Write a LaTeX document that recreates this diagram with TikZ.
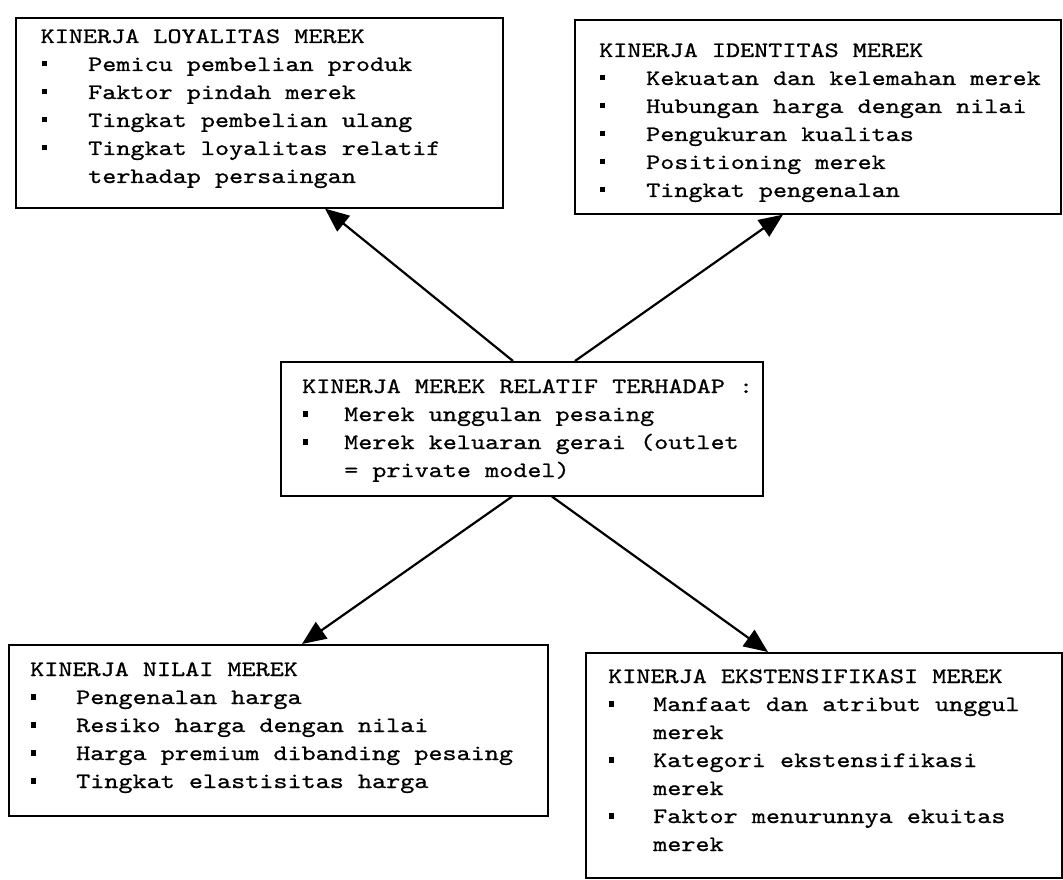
\documentclass[tikz,border=0pt]{standalone}
\usepackage{fontspec}
\newfontfamily\courfont{lmmono10-regular.otf}[FakeStretch=1.22,FakeBold=0.8]
\usetikzlibrary{arrows.meta,calc}
\newcommand\bsq{\raisebox{4.5pt}{\rule{5pt}{5.5pt}}}
\newcommand\itemline[2]{\hbox{\makebox[#1][l]{\hspace{1pt}\bsq}#2}}
\newcommand\contline[2]{\hbox{\hspace*{#1}#2}}
\tikzset{
  box/.style={draw=black, line width=1.6pt, anchor=north west, inner sep=0pt},
  txt/.style={anchor=base west, inner sep=0pt, font=\courfont\fontsize{22}{28}\selectfont},
  arr/.style={line width=2.2pt, -{Triangle[length=24pt,width=20pt]}},
}
\begin{document}
\begin{tikzpicture}[x=1pt,y=-1pt]
\useasboundingbox (0,0) rectangle (1063,880);
% boxes
\node[box, minimum width=487pt, minimum height=190pt] (b1) at (15,17) {};
\node[box, minimum width=486pt, minimum height=194pt] (b2) at (574,19) {};
\node[box, minimum width=482pt, minimum height=134pt] (cen) at (280,361) {};
\node[box, minimum width=539pt, minimum height=171pt] (b4) at (8,644) {};
\node[box, minimum width=476pt, minimum height=225pt] (b5) at (585,652) {};
% texts
\node[txt] (t1) at (40.5,43) {\vtop{%
  \hbox{KINERJA LOYALITAS MEREK}
  \itemline{47.5pt}{Pemicu pembelian produk}
  \itemline{47.5pt}{Faktor pindah merek}
  \itemline{47.5pt}{Tingkat pembelian ulang}
  \itemline{47.5pt}{Tingkat loyalitas relatif}
  \contline{47.5pt}{terhadap persaingan}}};
\node[txt] (t2) at (599,57) {\vtop{%
  \hbox{KINERJA IDENTITAS MEREK}
  \itemline{47pt}{Kekuatan dan kelemahan merek}
  \itemline{47pt}{Hubungan harga dengan nilai}
  \itemline{47pt}{Pengukuran kualitas}
  \itemline{47pt}{Positioning merek}
  \itemline{47pt}{Tingkat pengenalan}}};
\node[txt] (t3) at (302,393) {\vtop{%
  \hbox{KINERJA MEREK RELATIF TERHADAP :}
  \itemline{42pt}{Merek unggulan pesaing}
  \itemline{42pt}{Merek keluaran gerai (outlet}
  \contline{42pt}{= private model)}}};
\node[txt] (t4) at (30,676) {\vtop{%
  \hbox{KINERJA NILAI MEREK}
  \itemline{46pt}{Pengenalan harga}
  \itemline{46pt}{Resiko harga dengan nilai}
  \itemline{46pt}{Harga premium dibanding pesaing}
  \itemline{46pt}{Tingkat elastisitas harga}}};
\node[txt] (t5) at (608,683) {\vtop{%
  \hbox{KINERJA EKSTENSIFIKASI MEREK}
  \itemline{45pt}{Manfaat dan atribut unggul}
  \contline{45pt}{merek}
  \itemline{45pt}{Kategori ekstensifikasi}
  \contline{45pt}{merek}
  \itemline{45pt}{Faktor menurunnya ekuitas}
  \contline{45pt}{merek}}};
% arrows
\draw[arr] ($(cen.north west)+(233,0)$) -- ($(b1.south west)+(310,0)$);
\draw[arr] ($(cen.north west)+(295,0)$) -- ($(b2.south west)+(209,0)$);
\draw[arr] ($(cen.south west)+(232,0)$) -- ($(b4.north west)+(294,0)$);
\draw[arr] ($(cen.south west)+(272,0)$) -- ($(b5.north west)+(183,0)$);
\end{tikzpicture}
\end{document}
